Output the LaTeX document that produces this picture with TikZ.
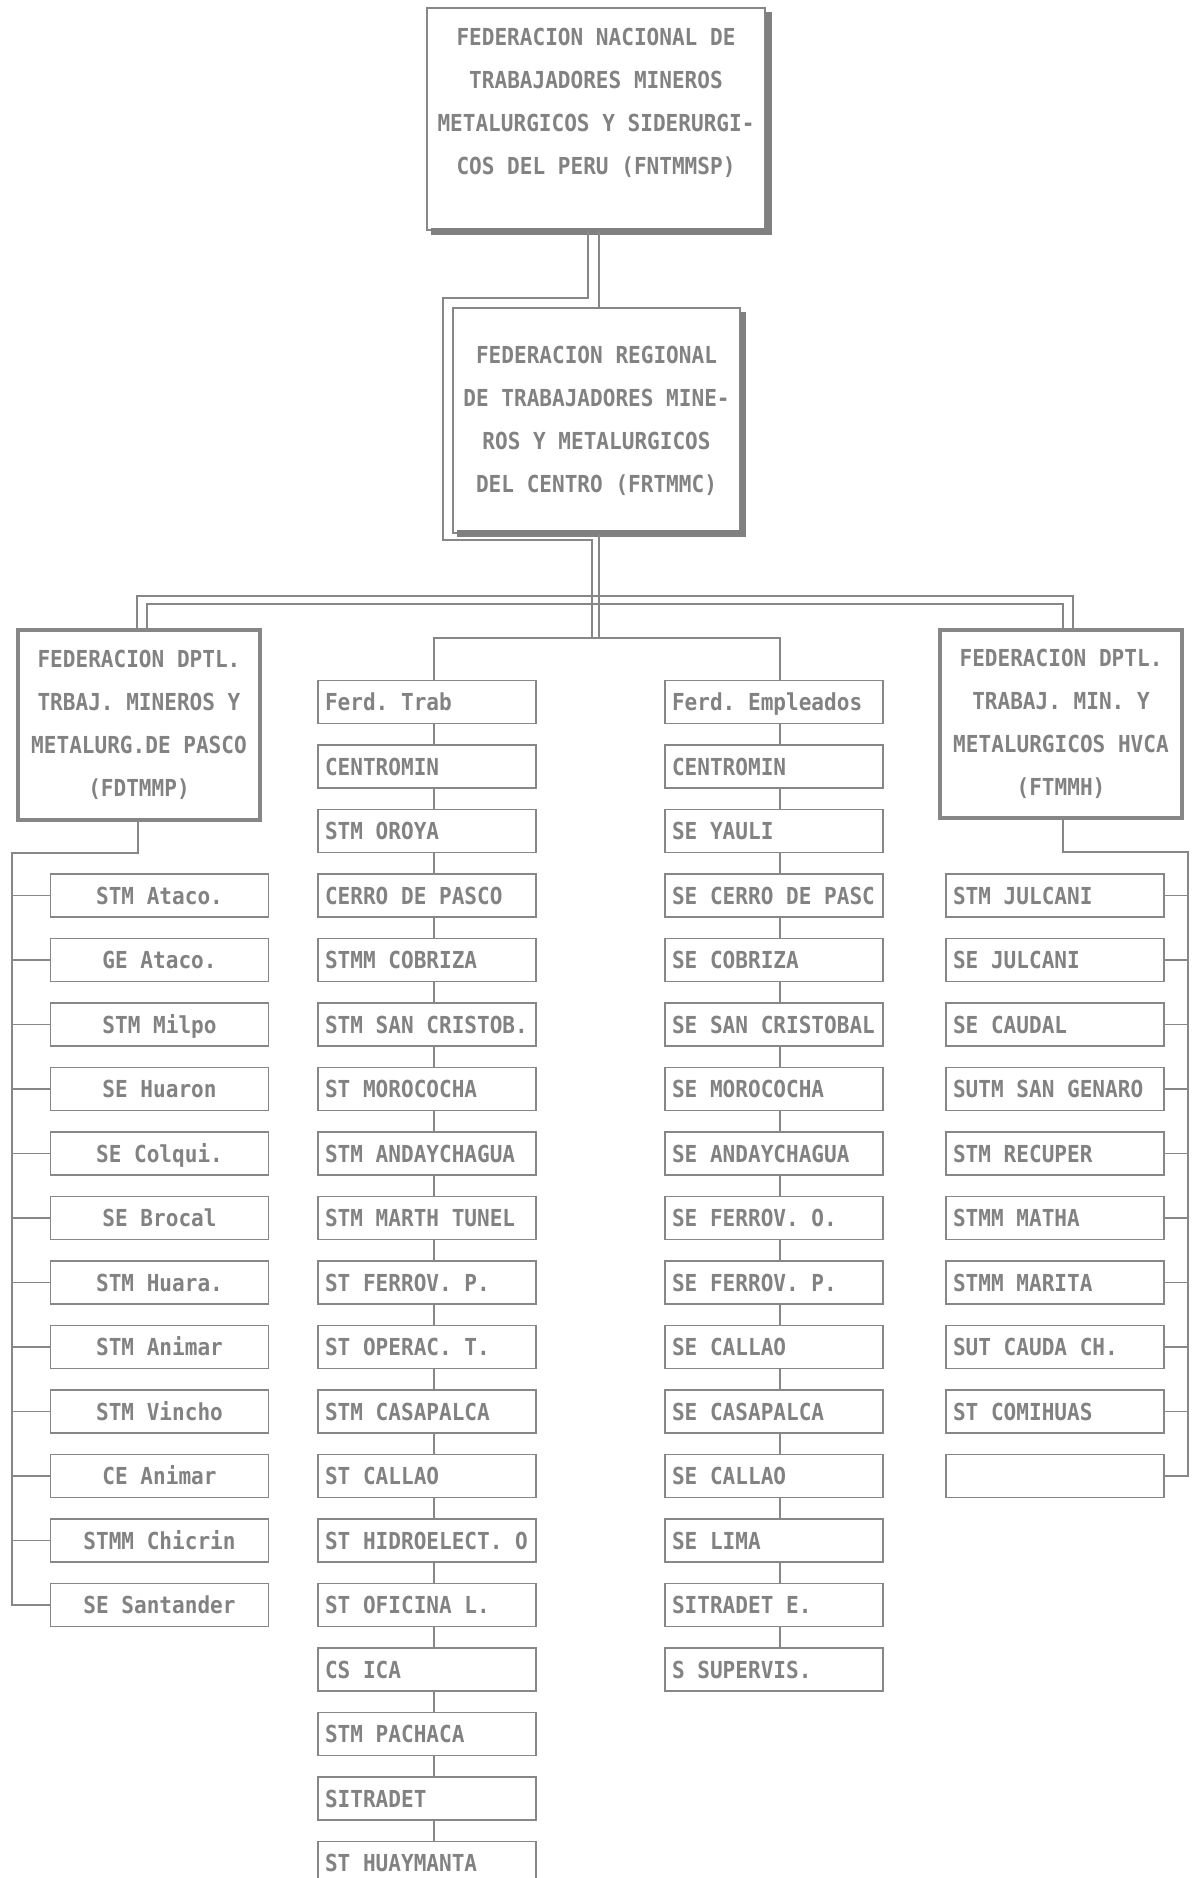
\documentclass[tikz,border=0pt]{standalone}
\usepackage{fontspec}
\newfontfamily\mono[FakeStretch=0.9,BoldFont={DejaVu Sans Mono Bold}]{DejaVu Sans Mono}
\definecolor{ink}{RGB}{130,130,130}
\definecolor{ln}{RGB}{135,135,135}
\definecolor{shd}{RGB}{128,128,128}
\frenchspacing
\begin{document}
\begin{tikzpicture}[x=0.5pt,y=-0.5pt,
  every node/.style={font=\mono\bfseries\fontsize{11.7}{21.5}\selectfont, text=ink,
                     execute at begin node={\frenchspacing\spaceskip=0pt\xspaceskip=0pt\relax}},
  conn/.style={draw=ln, line width=0.8pt},
  item/.style={draw=ln, line width=0.9pt, minimum width=109pt, minimum height=21.5pt,
               text height=8.5pt, text depth=0pt, inner sep=0pt},
  itemL/.style={item, text width=102pt, align=left},
  itemC/.style={item, align=center},
  bigbox/.style={draw=ln, line width=0.9pt, align=center, inner sep=0pt},
  fedbox/.style={draw=ln, line width=1.6pt, align=center, inner sep=0pt},
]
\useasboundingbox (0,0) rectangle (1193,1878);
\clip (0,0) rectangle (1193,1878);
\fill[white] (0,0) rectangle (1193,1878);

% national federation
\node[bigbox, minimum width=169pt, minimum height=111pt] (fn) at (596,119) {};
\node[align=center] (fnt) at (596,103) {FEDERACION NACIONAL DE\\TRABAJADORES MINEROS\\METALURGICOS Y SIDERURGI-\\COS DEL PERU (FNTMMSP)};
\fill[shd] (765,12) rectangle (772,235);
\fill[shd] (431,228) rectangle (772,235);

% regional federation
\node[bigbox, minimum width=143.5pt, minimum height=112.5pt] (rg) at (596.5,420.5)
  {FEDERACION REGIONAL\\DE TRABAJADORES MINE-\\ROS Y METALURGICOS\\DEL CENTRO (FRTMMC)};
\fill[shd] (740,312) rectangle (746,537);
\fill[shd] (457,530) rectangle (746,537);

% departmental federations
\node[fedbox, minimum width=121pt, minimum height=95pt] (fd) at (139,725)
  {FEDERACION DPTL.\\TRBAJ. MINEROS Y\\METALURG.DE PASCO\\(FDTMMP)};
\node[fedbox, minimum width=121pt, minimum height=94pt] (ft) at (1061,724)
  {FEDERACION DPTL.\\TRABAJ. MIN. Y\\METALURGICOS HVCA\\(FTMMH)};

% middle column 1
\foreach \t [count=\i from 0] in {Ferd. Trab, CENTROMIN, STM OROYA, CERRO DE PASCO,
  STMM COBRIZA, STM SAN CRISTOB., ST MOROCOCHA, STM ANDAYCHAGUA, STM MARTH TUNEL,
  ST FERROV. P., ST OPERAC. T., STM CASAPALCA, ST CALLAO, ST HIDROELECT. O,
  ST OFICINA L., CS ICA, STM PACHACA, SITRADET, ST HUAYMANTA}
  {\node[itemL] (c1-\i) at (427,{702+64.5*\i}) {\t};}
% middle column 2
\foreach \t [count=\i from 0] in {Ferd. Empleados, CENTROMIN, SE YAULI, SE CERRO DE PASC,
  SE COBRIZA, SE SAN CRISTOBAL, SE MOROCOCHA, SE ANDAYCHAGUA, SE FERROV. O.,
  SE FERROV. P., SE CALLAO, SE CASAPALCA, SE CALLAO, SE LIMA, SITRADET E., S SUPERVIS.}
  {\node[itemL] (c2-\i) at (774,{702+64.5*\i}) {\t};}
% left column
\foreach \t [count=\i from 3] in {STM Ataco., GE Ataco., STM Milpo, SE Huaron, SE Colqui.,
  SE Brocal, STM Huara., STM Animar, STM Vincho, CE Animar, STMM Chicrin, SE Santander}
  {\node[itemC] (lf-\i) at (159.5,{702+64.5*\i}) {\t};}
% right column
\foreach \t [count=\i from 3] in {STM JULCANI, SE JULCANI, SE CAUDAL, SUTM SAN GENARO,
  STM RECUPER, STMM MATHA, STMM MARITA, SUT CAUDA CH., ST COMIHUAS}
  {\node[itemL] (rt-\i) at (1055,{702+64.5*\i}) {\t};}
\node[itemL] (rt-12) at (1055,{702+64.5*12}) {};

% helper coordinates
\coordinate (jA) at (443,298);
\coordinate (jB) at (592,540);
\coordinate (ob) at (600,596);
\coordinate (ib) at (600,604);
\coordinate (mbar) at (600,638);
\coordinate (lt) at (12,853);
\coordinate (rtt) at (1188,852);

% top connectors
\draw[conn] ([xshift=-4pt]fn.south) |- (jA) |- (jB) -- (jB |- mbar);
\draw[conn] ([xshift=1.5pt]fn.south) -- ([xshift=1.5pt]fn.south |- rg.north);
\draw[conn] ([xshift=1.5pt]fn.south |- rg.south) -- ([xshift=1.5pt]fn.south |- mbar);
% double bars to departmental federations
\draw[conn] ([xshift=-1pt]fd.north) -- ([xshift=-1pt]fd.north |- ob)
  -- ([xshift=6pt]ft.north |- ob) -- ([xshift=6pt]ft.north);
\draw[conn] ([xshift=4pt]fd.north) -- ([xshift=4pt]fd.north |- ib)
  -- ([xshift=1pt]ft.north |- ib) -- ([xshift=1pt]ft.north);
% bar to middle columns
\draw[conn] ([xshift=3.5pt]c1-0.north) |- (mbar) -| ([xshift=3pt]c2-0.north);

% middle column chains
\foreach \i [evaluate=\i as \j using int(\i+1)] in {0,...,17}
  {\draw[conn] ([xshift=3.5pt]c1-\i.south) -- ([xshift=3.5pt]c1-\j.north);}
\foreach \i [evaluate=\i as \j using int(\i+1)] in {0,...,14}
  {\draw[conn] ([xshift=3pt]c2-\i.south) -- ([xshift=3pt]c2-\j.north);}

% left trunk
\draw[conn] ([xshift=-0.5pt]fd.south) |- (lt) |- (lf-14.west);
\foreach \k in {3,...,13} {\draw[conn] (lt |- lf-\k.west) -- (lf-\k.west);}
% right trunk
\draw[conn] ([xshift=1pt]ft.south) |- (rtt) |- (rt-12.east);
\foreach \k in {3,...,11} {\draw[conn] (rtt |- rt-\k.east) -- (rt-\k.east);}
\end{tikzpicture}
\end{document}
